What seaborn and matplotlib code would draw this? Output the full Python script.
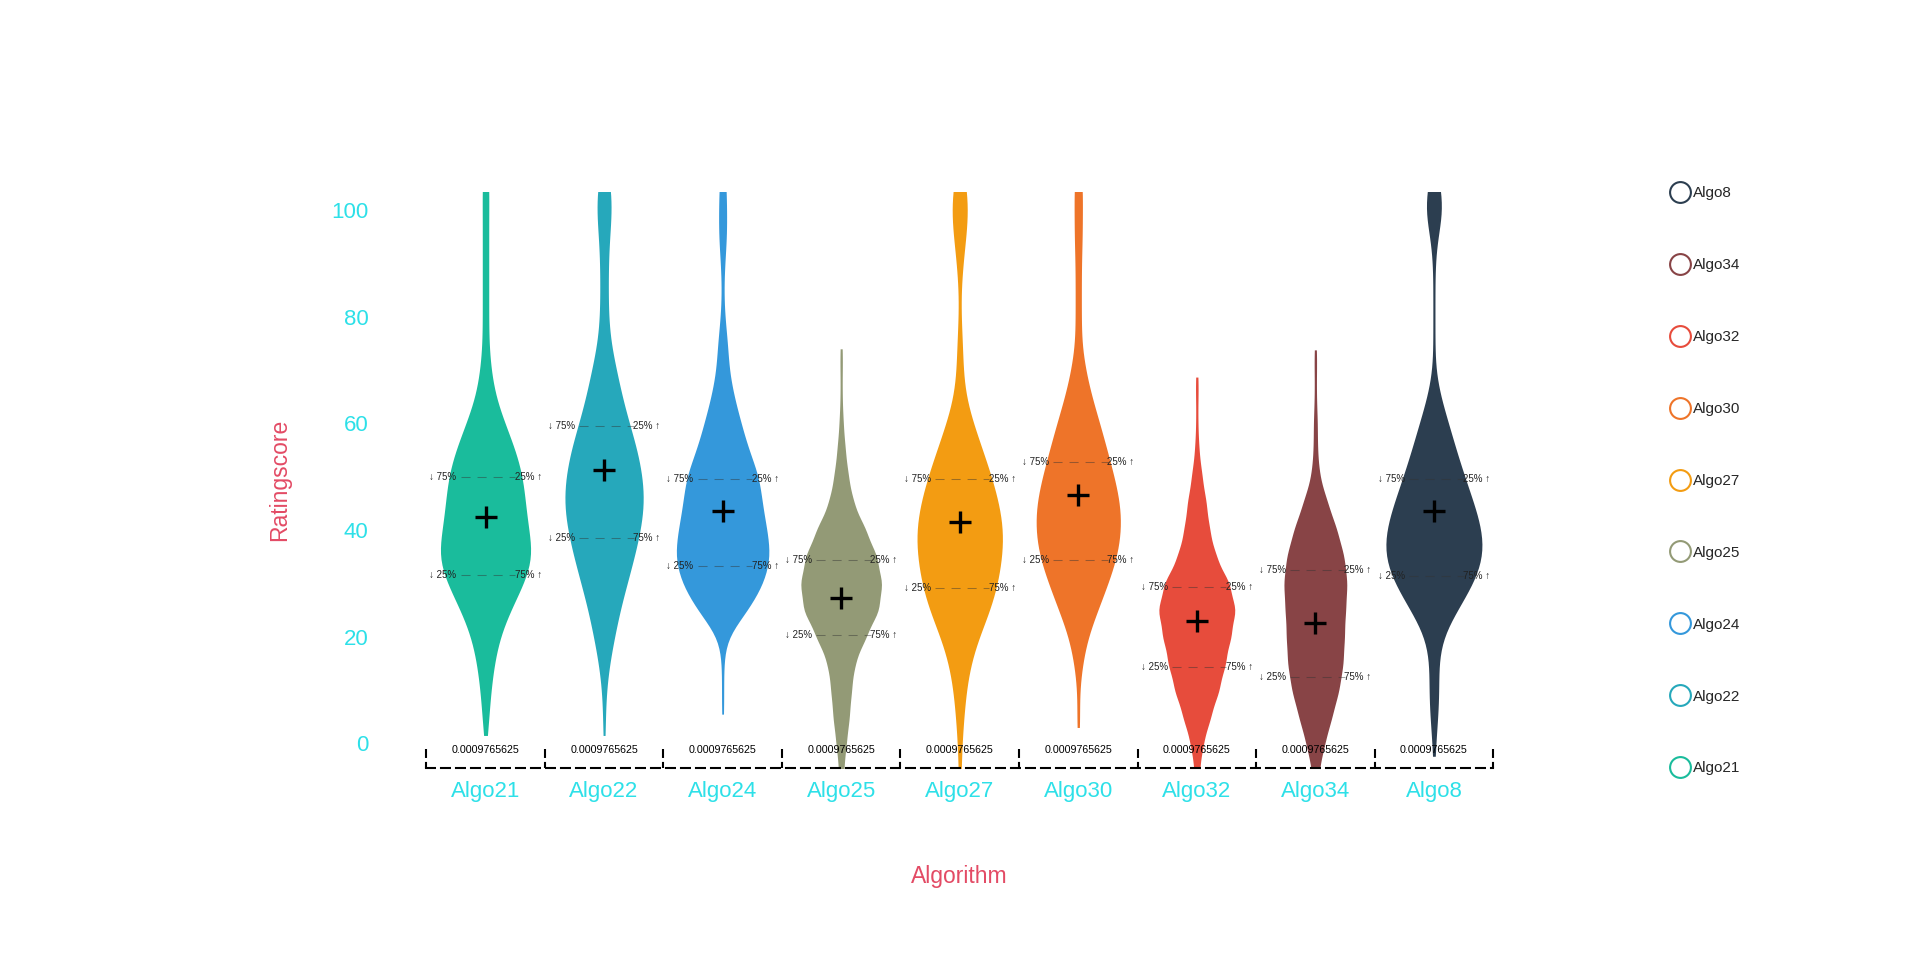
import numpy as np
import pandas as pd
import matplotlib
matplotlib.use("Agg")
import matplotlib.pyplot as plt
from matplotlib.lines import Line2D
import seaborn as sns

algos = ['Algo21', 'Algo22', 'Algo24', 'Algo25', 'Algo27', 'Algo30', 'Algo32', 'Algo34', 'Algo8']
colors = ['#1abc9c', '#26a8bb', '#3498db', '#939a76', '#f39c12', '#ee7429', '#e74c3c', '#884446', '#2c3e50']

# rating score levels and how many runs landed near each one
levels = [-5, 0, 5, 10, 15, 20, 25, 30, 35, 40, 45, 50, 55, 60, 65, 70, 75, 80, 85, 90, 95, 100, 105]
counts = {
    'Algo21': [0, 0, 3, 5, 8, 13, 23, 36, 45, 40, 37, 35, 28, 18, 9, 5, 3, 3, 3, 3, 3, 3, 3],
    'Algo22': [0, 0, 1, 2, 5, 10, 15, 22, 29, 35, 39, 37, 32, 24, 17, 12, 6, 4, 4, 4, 5, 8, 6],
    'Algo24': [0, 0, 0, 1, 1, 3, 25, 40, 47, 43, 38, 36, 25, 18, 11, 6, 5, 2, 1, 2, 4, 4, 3],
    'Algo25': [2, 5, 8, 10, 13, 24, 37, 40, 35, 24, 12, 7, 4, 2, 1, 1, 0, 0, 0, 0, 0, 0, 0],
    'Algo27': [1, 2, 4, 6, 10, 18, 30, 37, 41, 43, 38, 31, 22, 13, 5, 3, 3, 1, 1, 3, 6, 9, 6],
    'Algo30': [0, 0, 1, 1, 4, 9, 19, 29, 38, 42, 41, 35, 28, 21, 13, 7, 3, 3, 3, 3, 4, 4, 4],
    'Algo32': [2, 6, 13, 21, 27, 32, 37, 31, 18, 12, 9, 5, 2, 1, 1, 0, 0, 0, 0, 0, 0, 0, 0],
    'Algo34': [3, 9, 16, 23, 27, 28, 29, 31, 28, 21, 12, 4, 2, 2, 1, 1, 0, 0, 0, 0, 0, 0, 0],
    'Algo8':  [0, 1, 4, 5, 4, 7, 22, 38, 48, 46, 38, 29, 21, 14, 6, 1, 1, 1, 1, 1, 3, 10, 5],
}
lowest = [1.5, 1.5, 5.5, -7, -7, 3, -7, -7, -2.4]
highest = [107, 107, 107, 74, 107, 107, 68.7, 73.8, 107]

q75 = [49.9, 59.5, 49.5, 34.4, 49.5, 52.7, 29.4, 32.5, 49.5]
q25 = [31.5, 38.5, 33.2, 20.4, 29.2, 34.4, 14.4, 12.4, 31.4]
means = [42.5, 51.2, 43.5, 27.3, 41.5, 46.5, 22.9, 22.6, 43.5]
p_values = ['0.0009765625'] * 9

# widest point of each violin, as a share of the category slot
violin_width = [0.76, 0.66, 0.78, 0.68, 0.72, 0.71, 0.64, 0.53, 0.81]

rows = []
for i, a in enumerate(algos):
    s = list(np.repeat(levels, counts[a])) + [lowest[i], highest[i]]
    rows.append(pd.DataFrame({'Algorithm': a, 'score': s}))
df = pd.concat(rows, ignore_index=True)

sns.set_style('white')
plt.rcParams['font.family'] = ['Liberation Sans', 'DejaVu Sans']

cyan = '#2de0e8'
pink = '#e34b65'

fig = plt.figure(figsize=(19.2, 9.6), dpi=100)
ax = fig.add_axes([0.222, 0.2, 0.5557, 0.6])

for i, a in enumerate(algos):
    sns.violinplot(data=df[df['Algorithm'] == a], x='Algorithm', y='score', order=algos,
                   color=colors[i], inner=None, cut=0, bw_method=0.2, density_norm='width',
                   width=violin_width[i], linewidth=0, saturation=1, ax=ax)

dash = (0, (8.7, 6.7))
for i in range(len(algos)):
    for q, left, right in [(q75[i], '↓ 75%', '25% ↑'), (q25[i], '↓ 25%', '75% ↑')]:
        ax.plot([i - 0.21, i + 0.25], [q, q], ls=dash, lw=0.75, color='#333333', alpha=0.45)
        ax.text(i - 0.245, q, left, ha='right', va='center', fontsize=7, color='#222222')
        ax.text(i + 0.245, q, right, ha='left', va='center', fontsize=7, color='#222222')
    ax.plot(i, means[i], marker='+', ms=16.5, mew=2.4, color='black', ls='')
    ax.text(i, -1.2, p_values[i], ha='center', va='center', fontsize=7.7, color='black')

# dashed separators between categories on the x axis
for b in np.arange(-0.5, len(algos), 1.0):
    ax.plot([b, b], [0.033, 0], transform=ax.get_xaxis_transform(), color='black',
            lw=1.5, ls=(0, (4.3, 1.9)), clip_on=False)

ax.set_xlim(-0.5, len(algos) - 0.5)
ax.set_ylim(-4.6, 103.4)
ax.set_yticks([0, 20, 40, 60, 80, 100])
ax.tick_params(axis='y', length=0, pad=41.5, labelsize=16, labelcolor=cyan)
ax.tick_params(axis='x', length=0, pad=9.5, labelsize=16, labelcolor=cyan)

for side in ['left', 'top', 'right']:
    ax.spines[side].set_visible(False)
ax.spines['bottom'].set_linestyle((0, (4.3, 2.9)))
ax.spines['bottom'].set_linewidth(1.5)
ax.spines['bottom'].set_color('black')

ax.set_xlabel('Algorithm', fontsize=16.5, color=pink)
ax.set_ylabel('Ratingscore', fontsize=16.5, color=pink)
ax.xaxis.set_label_coords(0.5, -0.169)
ax.yaxis.set_label_coords(-0.127, 0.5)

handles = [Line2D([], [], marker='o', ls='', markersize=15, markerfacecolor='white',
                  markeredgecolor=colors[i], markeredgewidth=1.5, label=algos[i])
           for i in reversed(range(len(algos)))]
fig.legend(handles=handles, loc='upper left', bbox_to_anchor=(0.871, 0.806), frameon=False,
           fontsize=11, labelspacing=3.79, handlelength=1.0, handletextpad=0.35,
           borderpad=0, borderaxespad=0)

fig.savefig('out.png', dpi=100)
